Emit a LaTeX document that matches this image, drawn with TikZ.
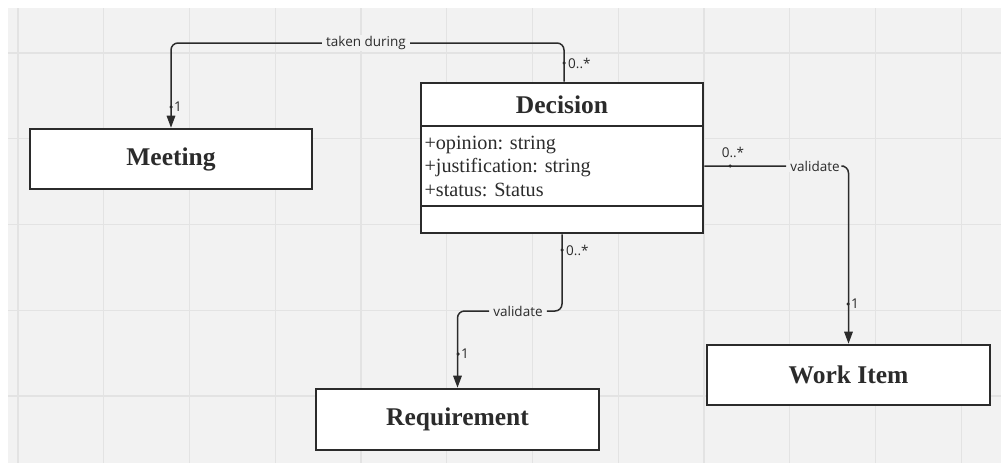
\documentclass[tikz,border=0pt]{standalone}
\usepackage{fontspec}
\setmainfont{Liberation Serif}
\newfontfamily\labfont{Open Sans}
\usetikzlibrary{arrows.meta}
\definecolor{bg}{HTML}{F2F2F2}
\definecolor{gridc}{HTML}{E3E3E3}
\definecolor{ink}{HTML}{2B2B2B}
\frenchspacing
\begin{document}
\begin{tikzpicture}[x=1pt,y=-1pt,
  box/.style={draw=ink, line width=2.6pt, fill=white, inner sep=0pt, text=ink,
    font=\bfseries\fontsize{25.5}{29}\selectfont},
  conn/.style={draw=ink, line width=1.5pt, rounded corners=7pt},
  tip/.style={-{Triangle[length=12pt,width=8.5pt]}},
  lab/.style={font=\labfont\fontsize{13.5}{16}\selectfont, text=ink, fill=bg, inner xsep=4pt, inner ysep=1pt},
  mult/.style={font=\labfont\fontsize{13.5}{15}\selectfont, text=ink, inner sep=1pt},
  dot/.style={circle, fill=ink, inner sep=0pt, minimum size=3.5pt}]
\useasboundingbox (0,0) rectangle (1001,463);
\fill[white] (0,0) rectangle (1001,463);
\fill[bg] (8,8) rectangle (1001,463);
\foreach \i in {0,...,11} \draw[gridc,line width=1.3pt] ({18+85.75*\i},8) -- ({18+85.75*\i},463);
\foreach \j in {0,...,4} \draw[gridc,line width=1.3pt] (8,{53+85.75*\j}) -- (1001,{53+85.75*\j});

% boxes
\node[box, minimum width=282pt, minimum height=60pt] (meeting) at (171,159) {Meeting};
\node[box, minimum width=283pt, minimum height=61pt] (req) at (457.5,419.5) {Requirement};
\node[box, minimum width=283pt, minimum height=60pt] (wi) at (848.5,375) {Work Item};
\node[box, minimum width=282pt, minimum height=43pt] (dech) at (562,104.5) {Decision};
\node[box, minimum width=282pt, minimum height=80pt, text width=275pt, align=left,
  font=\fontsize{20.2}{23.5}\selectfont] (deca) at (562,166) {+opinion: string\\+justification: string\\+status: Status};
\node[box, minimum width=282pt, minimum height=27pt] (deco) at (562,219.5) {};

% labels
\node[lab] (l1) at (366,43) {taken during};
\node[lab] (l2) at (518,311) {validate};
\node[lab] (l3) at (815,166) {validate};

% connectors
\draw[conn,tip] ([xshift=2pt]dech.north) |- (l1) -| (meeting.north);
\draw[conn,tip] (deco.south) |- (l2) -| (req.north);
\draw[conn,tip] (deca.east) -- (l3) -| (wi.north);

% multiplicities
\node[dot] (d1) at (564,63) {};
\node[mult, anchor=west] (m1) at (567,63) {0..*};
\node[dot] (d2) at (171,107) {};
\node[mult, anchor=west] (m2) at (173,107) {1};
\node[dot] (d3) at (562,250) {};
\node[mult, anchor=west] (m3) at (565,250) {0..*};
\node[dot] (d4) at (458,354) {};
\node[mult, anchor=west] (m4) at (460,354) {1};
\node[dot] (d5) at (730,166) {};
\node[mult] (m5) at (733,152) {0..*};
\node[dot] (d6) at (848,304) {};
\node[mult, anchor=west] (m6) at (850,304) {1};
\end{tikzpicture}
\end{document}
